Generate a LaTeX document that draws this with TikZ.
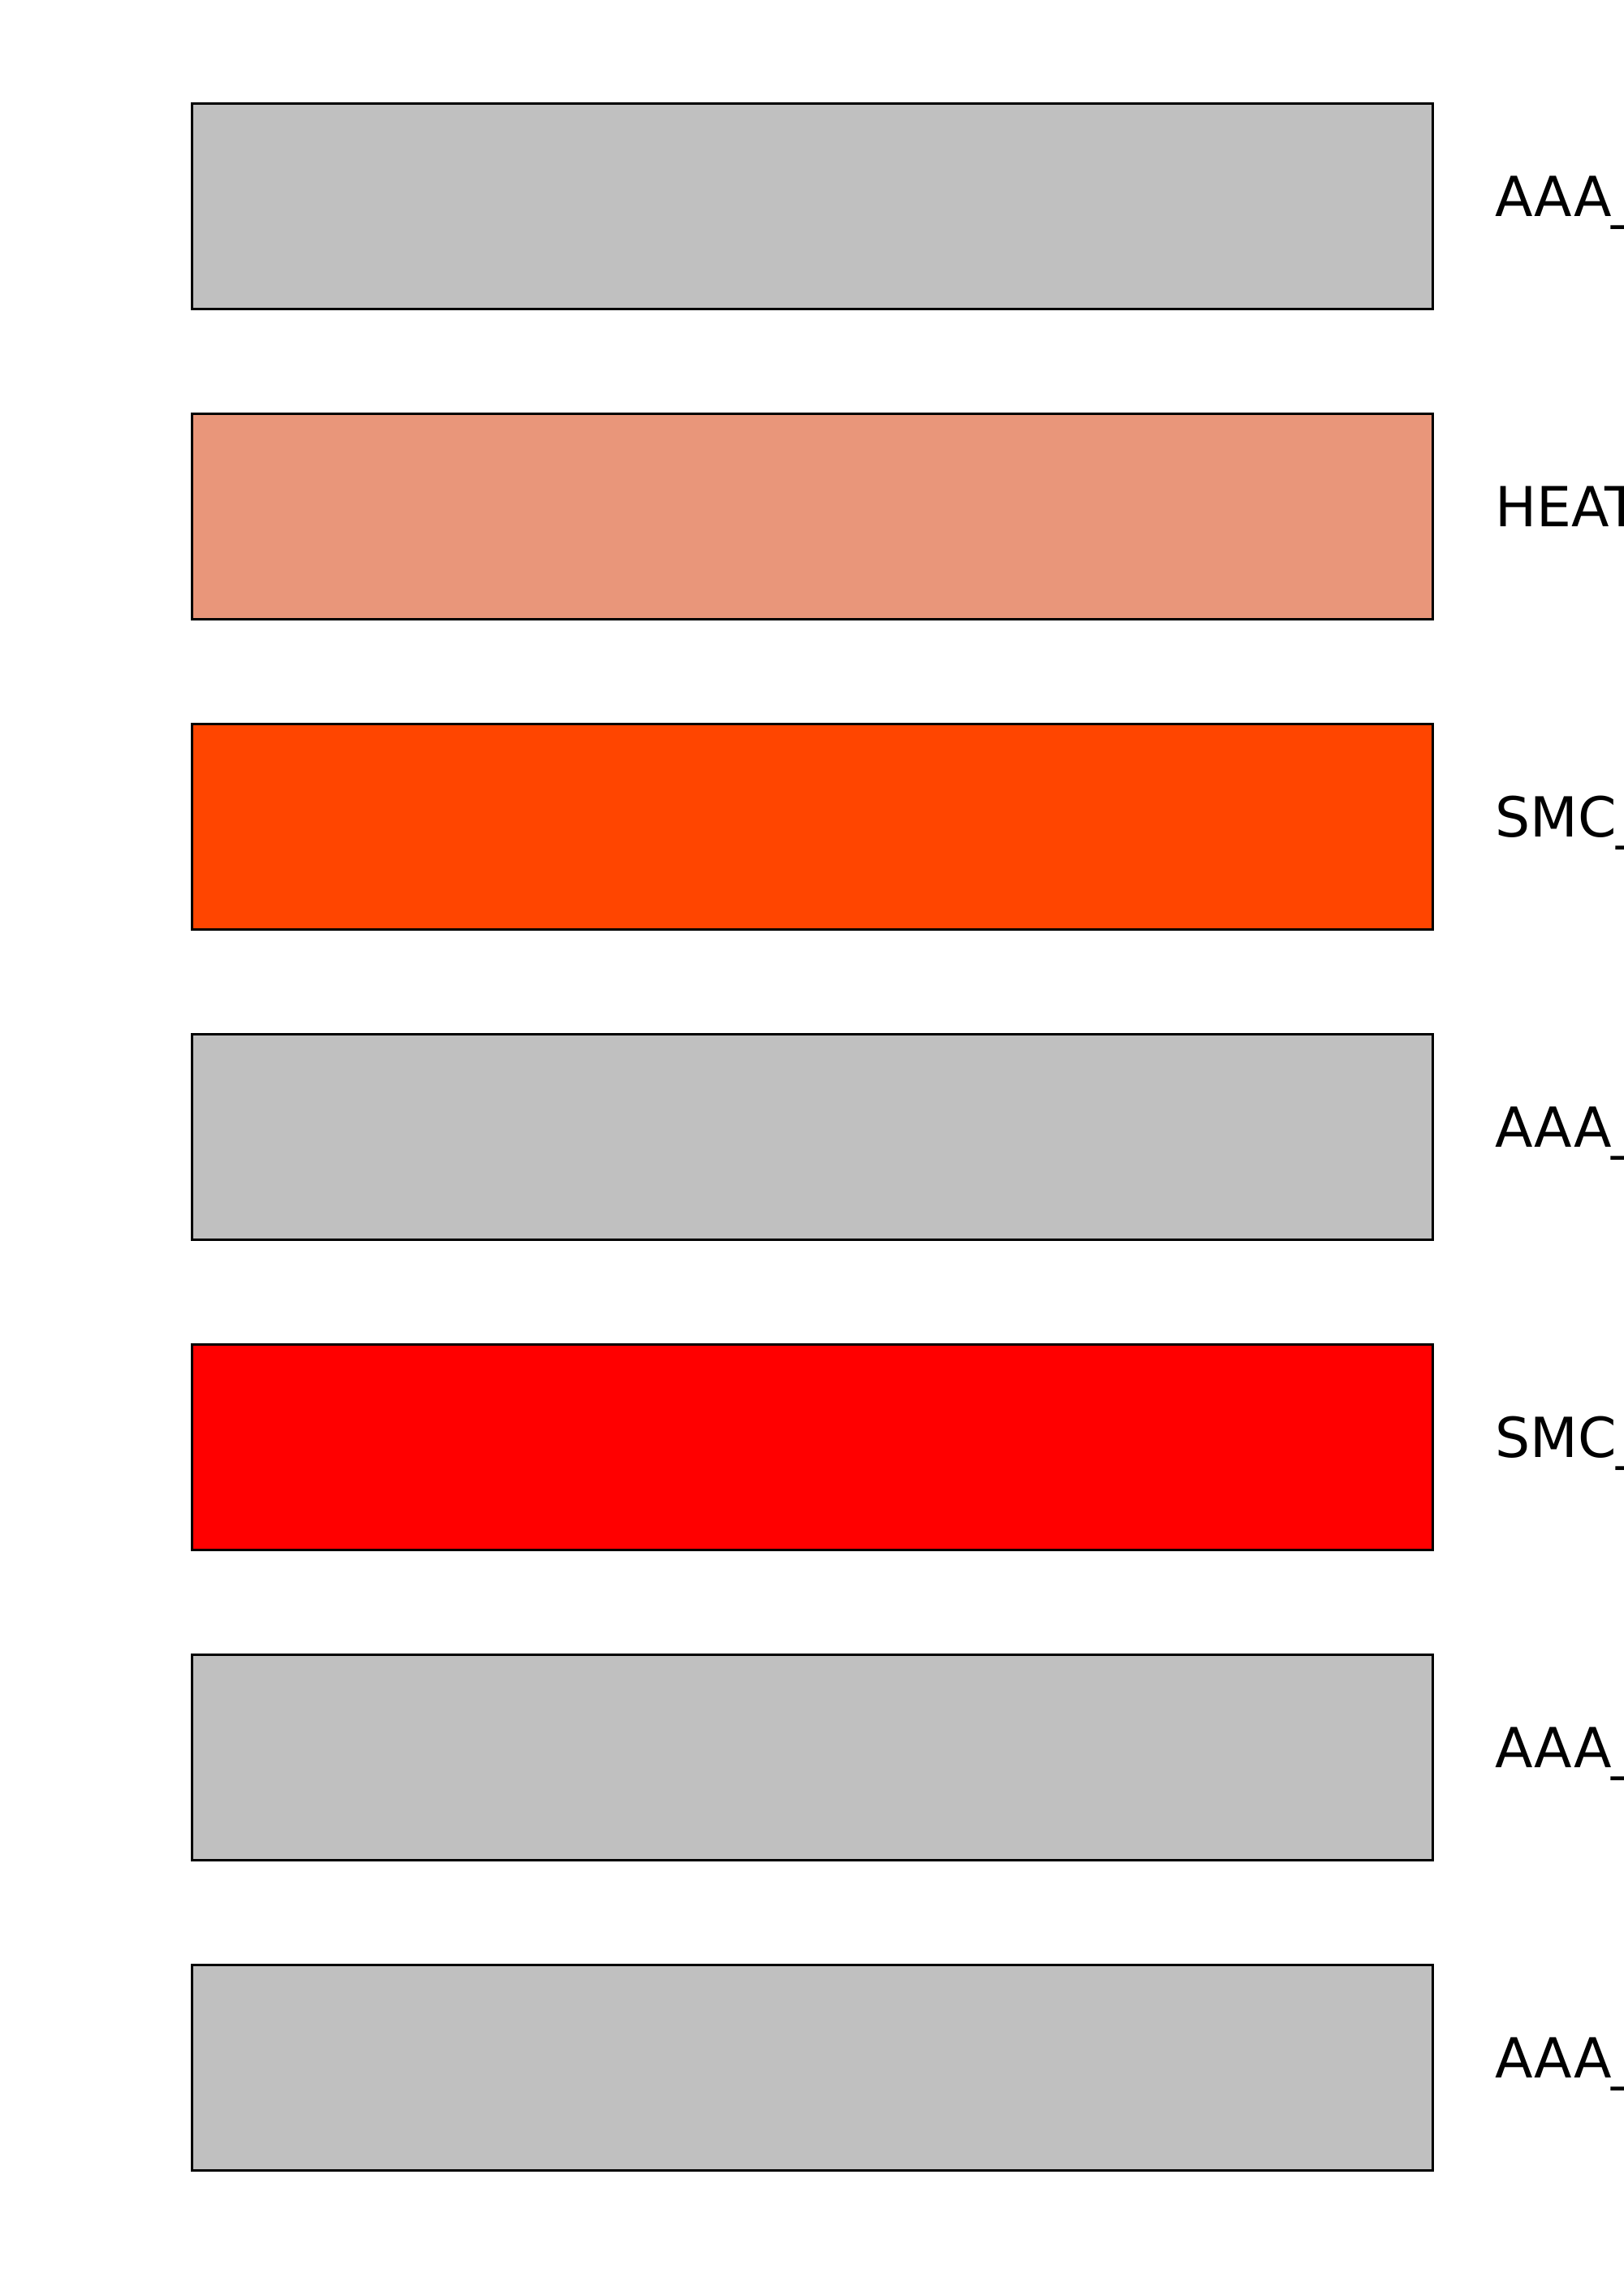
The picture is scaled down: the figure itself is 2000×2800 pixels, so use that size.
\documentclass[tikz,border=0pt]{standalone}
\usepackage{fontspec}
\setmainfont{DejaVu Sans}
\definecolor{cgray}{HTML}{C0C0C0}
\definecolor{csalmon}{HTML}{E9967A}
\definecolor{corange}{HTML}{FF4500}
\definecolor{cred}{HTML}{FF0000}
\tikzset{
  bar/.style={draw=black, line width=1.5pt},
  lbl/.style={inner sep=0pt, anchor=base west, font=\fontsize{34pt}{40pt}\selectfont}
}
\begin{document}
\begin{tikzpicture}[x=0.5pt,y=-0.5pt]
\useasboundingbox (0,0) rectangle (2000,2800);
\clip (0,0) rectangle (2000,2800);
\fill[white] (0,0) rectangle (2000,2800);
\foreach \i/\c/\t in {0/cgray/AAA\_, 1/csalmon/HEAT, 2/corange/SMC\_, 3/cgray/AAA\_, 4/cred/SMC\_, 5/cgray/AAA\_, 6/cgray/AAA\_}{
  \pgfmathsetmacro{\yt}{127+382*\i}
  \pgfmathsetmacro{\yb}{\yt+253}
  \pgfmathsetmacro{\yl}{\yt+139}
  \draw[bar, fill=\c] (236,\yt) rectangle (1764,\yb);
  \node[lbl] (l\i) at (1841,\yl) {\t};
}
\end{tikzpicture}
\end{document}
